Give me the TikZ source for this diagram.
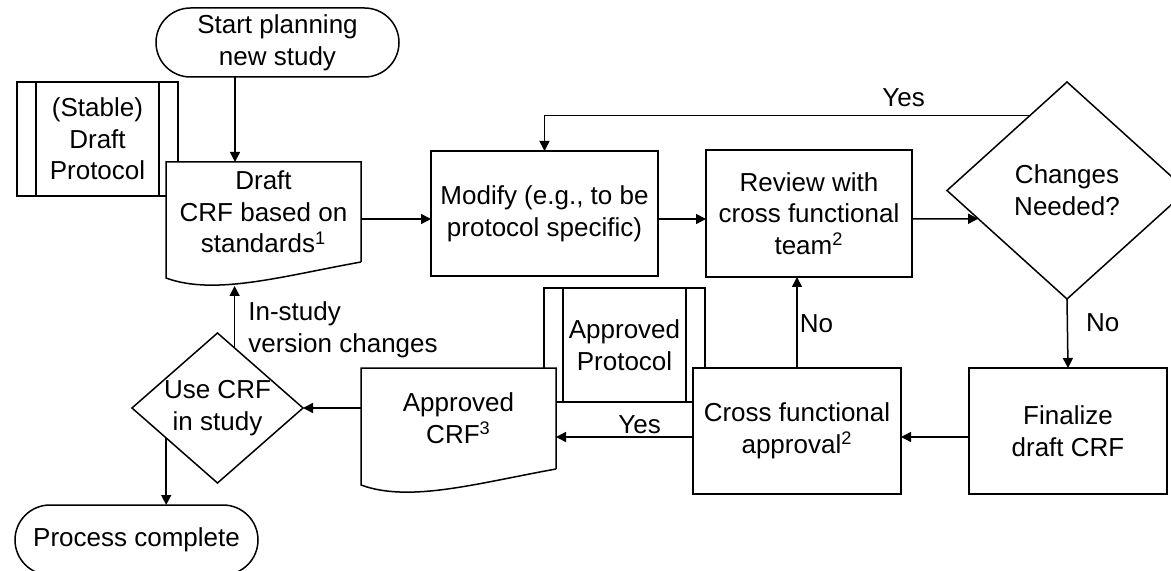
\documentclass[tikz,border=0pt]{standalone}
\usepackage{fontspec}
\setmainfont{Liberation Sans}
\usepackage{tikz}
\usetikzlibrary{arrows.meta,shapes.geometric,shapes.misc,calc}
\tikzstyle{every node}=[font=\fontsize{13}{15.8}\selectfont]
\tikzstyle{terminal}=[rounded rectangle, draw, fill=white, line width=0.75pt,
align=center, inner sep=0pt, outer sep=0pt]
\tikzstyle{procbox}=[rectangle, draw, fill=white, line width=0.75pt,
align=center, inner sep=0pt, outer sep=0pt]
\tikzstyle{decision}=[diamond, draw, fill=white, line width=0.75pt,
align=center, inner sep=0pt, outer sep=0pt]
\tikzstyle{predef}=[procbox, path picture={% the two inner bars
\draw[line width=0.75pt] ([xshift=9.5pt]path picture bounding box.north west) -- ([xshift=9.5pt]path picture bounding box.south west)
([xshift=-9.5pt]path picture bounding box.north east) -- ([xshift=-9.5pt]path picture bounding box.south east);}]
\tikzstyle{docu}=[rectangle, fill=white, align=center, inner sep=0pt, outer sep=0pt]
\tikzstyle{flow}=[-{Triangle[length=5pt,width=5pt]}, line width=0.75pt]
\tikzstyle{lbl}=[inner sep=1pt, align=left]
\newcommand{\docoutline}[1]{%
\draw[line width=0.75pt] (#1.south east) -- (#1.north east) -- (#1.north west) -- ($(#1.south west)+(0,-8pt)$)
.. controls ($(#1.south west)!0.25!(#1.south east)+(0,-17pt)$) and ($(#1.south west)!0.6!(#1.south east)+(0,-7pt)$) .. (#1.south east);}

\begin{document}
\begin{tikzpicture}[x=0.5pt,y=-0.5pt]
\useasboundingbox (0,0) rectangle (1171,571);
\node[terminal, minimum width=121.5pt, minimum height=34.5pt] (start) at (277.5,42.5) {Start planning\\new study};
\node[predef, minimum width=80.5pt, minimum height=57pt] (stabprot) at (97.5,139) {(Stable)\\Draft\\Protocol};
\node[docu, minimum width=97.5pt, minimum height=50pt] (draftcrf) at (263.5,212) {Draft\\CRF based on\\standards\textsuperscript{1}};
\docoutline{draftcrf}
\node[procbox, minimum width=113.5pt, minimum height=62.5pt] (modify) at (544.5,213.5) {Modify (e.g., to be\\protocol specific)};
\node[procbox, minimum width=103pt, minimum height=63.5pt] (review) at (809,213.5) {Review with\\cross functional\\team\textsuperscript{2}};
\node[decision, minimum width=120pt, minimum height=108.5pt] (changes) at (1067,190.5) {Changes\\Needed?};
\node[procbox, minimum width=99pt, minimum height=63pt] (finalize) at (1068,431) {Finalize\\draft CRF};
\node[predef, minimum width=80.5pt, minimum height=57pt] (approtocol) at (624.5,345) {Approved\\Protocol};
\node[procbox, minimum width=104pt, minimum height=63pt] (crossapp) at (797,431) {Cross functional\\approval\textsuperscript{2}};
\node[docu, minimum width=97.5pt, minimum height=50.5pt] (appcrf) at (458.5,418.5) {Approved\\CRF\textsuperscript{3}};
\docoutline{appcrf}
\node[decision, aspect=1.14, minimum width=85.5pt, minimum height=75pt] (usecrf) at (217.5,408) {Use CRF\\in study};
\node[terminal, minimum width=121.5pt, minimum height=35pt] (done) at (136.5,540) {Process complete};

\coordinate (yesout) at ($(changes.west)!0.69!(changes.north)$);
\coordinate (chgin) at ($(changes.west)!0.26!(changes.south)$);
\coordinate (loopout) at ($(usecrf.north)!0.2!(usecrf.east)$);
\coordinate (endout) at ($(usecrf.west)!0.4!(usecrf.south)$);

\draw[flow] ([xshift=-21.25pt]start.south) -- ([xshift=-21.25pt]start.south |- draftcrf.north);
\draw[flow] ($(draftcrf.east)+(0,-3.5pt)$) -- ($(modify.west)+(0,-2.75pt)$);
\draw[flow] ($(modify.east)+(0,-2.75pt)$) -- ($(review.west)+(0,-2.75pt)$);
\draw[flow] ($(review.east)+(0,-2.75pt)$) -- (chgin);
\draw[flow] (yesout) -| (modify.north) node[lbl, pos=0.13, above=3pt] {Yes};
\draw[flow] (changes.south) -- (finalize.north) node[lbl, pos=0.35, right=8pt] {No};
\draw[flow] ($(finalize.west)+(0,-3pt)$) -- ($(finalize.west -| crossapp.east)+(0,-3pt)$);
\draw[flow] (crossapp.north) -- (crossapp.north |- review.south) node[lbl, pos=0.49, right] {No};
\draw[flow] ($(crossapp.west)+(0,-3pt)$) -- ($(crossapp.west -| appcrf.east)+(0,-3pt)$) node[lbl, pos=0.39, above] {Yes};
\draw[flow] (usecrf.east -| appcrf.west) -- (usecrf.east);
\draw[flow] (loopout) -- ($(loopout |- draftcrf.south)+(0,-12pt)$) node[lbl, pos=0.29, right=5.5pt] {In-study\\version changes};
\draw[flow] (endout) -- (endout |- done.north);
\end{tikzpicture}
\end{document}
